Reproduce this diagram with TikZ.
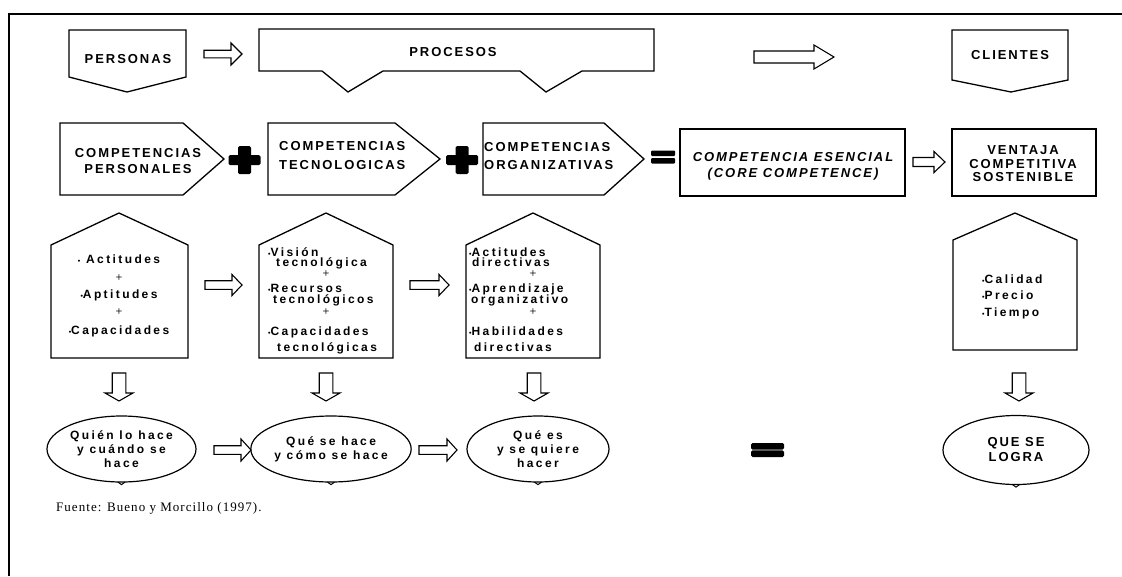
\documentclass[tikz,border=0pt]{standalone}
\usepackage{fontspec}
\setmainfont{Liberation Serif}
\newfontfamily\hdfont[LetterSpace=15]{Liberation Sans}
\newfontfamily\bdfont[LetterSpace=20]{Liberation Sans}
\newfontfamily\srcfont[LetterSpace=8]{Liberation Serif}
\usetikzlibrary{shapes.geometric,calc}

% hollow block arrow pointing right: start, end, body half, head half, head length
\newcommand\blockright[5]{%
  \draw[arrowline] let \p1=(#1), \p2=(#2) in
    (\x1,\y1+#3) -- (\x2-#5,\y1+#3) -- (\x2-#5,\y1+#4) -- (\x2,\y1)
    -- (\x2-#5,\y1-#4) -- (\x2-#5,\y1-#3) -- (\x1,\y1-#3) -- cycle;}
% hollow block arrow pointing down: start, end, body half, head half, head length
\newcommand\blockdown[5]{%
  \draw[arrowline] let \p1=(#1), \p2=(#2) in
    (\x1-#3,\y1) -- (\x1-#3,\y2+#5) -- (\x1-#4,\y2+#5) -- (\x1,\y2)
    -- (\x1+#4,\y2+#5) -- (\x1+#3,\y2+#5) -- (\x1+#3,\y1) -- cycle;}
% thick black plus sign centred at (#1,#2)
\newcommand\thickplus[2]{%
  \fill[rounded corners=1.5pt] (#1-16,#2-5) rectangle (#1+16,#2+5);
  \fill[rounded corners=1.5pt] (#1-6.5,#2-14) rectangle (#1+6.5,#2+14);}
\newcommand\dotmark{{\fontsize{7}{7}\selectfont\textbullet}}

\tikzset{
  outline/.style={draw=black, line width=1.3pt, line join=miter},
  arrowline/.style={draw=black, line width=1.1pt, fill=white, line join=miter},
  title/.style={inner sep=0pt, align=center,
    font=\hdfont\bfseries\fontsize{13}{15}\selectfont},
  bodytext/.style={inner sep=0pt, text height=8.5pt, text depth=0pt,
    font=\bdfont\bfseries\fontsize{12}{13}\selectfont},
  bullet/.style={bodytext, anchor=west},
  smallplus/.style={inner sep=0pt, font=\sffamily\bfseries\fontsize{8}{8}\selectfont},
  oval/.style={ellipse, draw=black, line width=1.2pt, inner sep=0pt, align=center,
    minimum height=66pt, font=\bdfont\bfseries\fontsize{12}{14}\selectfont},
}

\begin{document}
\begin{tikzpicture}[x=1pt,y=-1pt]
\useasboundingbox (0,0) rectangle (1122,576);

% page frame (top and left rules)
\draw[line width=2pt] (1122,14) -- (8.5,14) -- (8.5,576);

% ---------------- top row ----------------
\draw[outline] (69,30) -- (186,30) -- (186,77) -- (127,92) -- (69,77) -- cycle;
\node[title] (personas) at (128,59) {PERSONAS};

\draw[outline] (259,29) -- (654,29) -- (654,71) -- (582,71) -- (546,92) -- (520,71)
  -- (383,71) -- (348,92) -- (322,71) -- (259,71) -- cycle;
\node[title] (procesos) at (453,52) {PROCESOS};

\draw[outline] (952,30) -- (1068,30) -- (1068,80) -- (1011,92) -- (952,80) -- cycle;
\node[title] (clientes) at (1010,55) {CLIENTES};

\coordinate (a1s) at (204,54);  \coordinate (a1e) at (242,54);
\blockright{a1s}{a1e}{3.8pt}{11pt}{11pt}
\coordinate (a2s) at (754,57);  \coordinate (a2e) at (834,57);
\blockright{a2s}{a2e}{6pt}{12pt}{20pt}

% ---------------- competences row ----------------
\draw[outline] (60,123) -- (183,123) -- (224,159) -- (183,195) -- (60,195) -- cycle;
\node[title, font=\hdfont\bfseries\fontsize{13}{16}\selectfont] (cp) at (138,161)
  {COMPETENCIAS\\PERSONALES};

\draw[outline] (268,123) -- (395,123) -- (440,159) -- (395,195) -- (268,195) -- cycle;
\node[title, align=left, anchor=west, font=\hdfont\bfseries\fontsize{13}{19}\selectfont]
  (ct) at (279,156) {COMPETENCIAS\\TECNOLOGICAS};

\draw[outline] (483,123) -- (604,123) -- (644,159) -- (604,195) -- (483,195) -- cycle;
\node[title, align=left, anchor=west, font=\hdfont\bfseries\fontsize{13}{18}\selectfont]
  (co) at (484,156) {COMPETENCIAS\\ORGANIZATIVAS};

\thickplus{244.5}{160}
\thickplus{462}{160}

% equals sign
\fill[rounded corners=1pt] (651,150.5) rectangle (675,156);
\fill[rounded corners=1pt] (651,158) rectangle (675,163.5);

\draw[outline] (680,129) rectangle (905,196);
\node[title, font=\hdfont\bfseries\itshape\fontsize{13}{16}\selectfont] (ce) at (793,166)
  {COMPETENCIA ESENCIAL\\(CORE COMPETENCE)};

\coordinate (a3s) at (913,162);  \coordinate (a3e) at (945,162);
\blockright{a3s}{a3e}{4.5pt}{10.5pt}{11pt}

\draw[outline] (952,129) rectangle (1096,196);
\node[title, font=\hdfont\bfseries\fontsize{13}{13.5}\selectfont] (vcs) at (1023,164)
  {VENTAJA\\COMPETITIVA\\SOSTENIBLE};

% ---------------- house-shaped boxes ----------------
\draw[outline] (51,245) -- (119,213) -- (188,245) -- (188,358) -- (51,358) -- cycle;
\draw[outline] (259,245) -- (326,213) -- (393,245) -- (393,358) -- (259,358) -- cycle;
\draw[outline] (466,245) -- (533,213) -- (600,245) -- (600,358) -- (466,358) -- cycle;
\draw[outline] (953,240) -- (1015,213) -- (1077,240) -- (1077,350) -- (953,350) -- cycle;

% personal competences
\node[bodytext] (h1a) at (119,259) {\dotmark\ Actitudes};
\node[smallplus] (h1p) at (119,277) {+};
\node[bodytext] (h1b) at (119,294) {\dotmark Aptitudes};
\node[smallplus] (h1q) at (119,311) {+};
\node[bodytext] (h1c) at (119,330) {\dotmark Capacidades};

% technological competences
\node[bullet] (h2a) at (268,252) {\dotmark Visión};
\node[bullet] (h2b) at (276,262) {tecnológica};
\node[smallplus] (h2p) at (326,273) {+};
\node[bullet] (h2c) at (268,288) {\dotmark Recursos};
\node[bullet] (h2d) at (273,299) {tecnológicos};
\node[smallplus] (h2q) at (326,311) {+};
\node[bullet] (h2e) at (268,331) {\dotmark Capacidades};
\node[bullet] (h2f) at (277,347) {tecnológicas};

% organisational competences
\node[bullet] (h3a) at (469,252) {\dotmark Actitudes};
\node[bullet] (h3b) at (472,262) {directivas};
\node[smallplus] (h3p) at (533,273) {+};
\node[bullet] (h3c) at (469,288) {\dotmark Aprendizaje};
\node[bullet] (h3d) at (471,299) {organizativo};
\node[smallplus] (h3q) at (533,311) {+};
\node[bullet] (h3e) at (469,331) {\dotmark Habilidades};
\node[bullet] (h3f) at (474,347) {directivas};

% results
\node[bullet] (h4a) at (982,279) {\dotmark Calidad};
\node[bullet] (h4b) at (982,295) {\dotmark Precio};
\node[bullet] (h4c) at (982,312) {\dotmark Tiempo};

\coordinate (a4s) at (205,285);  \coordinate (a4e) at (242,285);
\blockright{a4s}{a4e}{4.3pt}{10.5pt}{10pt}
\coordinate (a5s) at (410,285);  \coordinate (a5e) at (449,285);
\blockright{a5s}{a5e}{4.3pt}{10.5pt}{10pt}

% ---------------- downward arrows ----------------
\coordinate (d1s) at (119,373);  \coordinate (d1e) at (119,401);
\blockdown{d1s}{d1e}{6.8pt}{14pt}{8pt}
\coordinate (d2s) at (326,373);  \coordinate (d2e) at (326,401);
\blockdown{d2s}{d2e}{6.8pt}{14pt}{8pt}
\coordinate (d3s) at (534,373);  \coordinate (d3e) at (534,401);
\blockdown{d3s}{d3e}{6.8pt}{14pt}{8pt}
\coordinate (d4s) at (1019,373); \coordinate (d4e) at (1019,401);
\blockdown{d4s}{d4e}{6.8pt}{14pt}{8pt}

% ---------------- ovals ----------------
\node[oval, minimum width=149pt] (e1) at (121.5,449) {Quién lo hace\\y cuándo se\\hace};
\node[oval, minimum width=144pt] (e2) at (331,449) {Qué se hace\\y cómo se hace};
\node[oval, minimum width=142pt] (e3) at (538,449) {Qué es\\y se quiere\\hacer};
\node[oval, minimum width=146pt, minimum height=69pt,
  font=\hdfont\bfseries\fontsize{13}{15}\selectfont] (e4) at (1016,450) {QUE SE\\LOGRA};
\foreach \e in {e1,e2,e3,e4}
  \draw[line width=1pt] ($(\e.south)+(-3.5,-0.5)$) -- ($(\e.south)+(0,2)$) -- ($(\e.south)+(3.5,-0.5)$);

\coordinate (a6s) at (214,450);  \coordinate (a6e) at (251,450);
\blockright{a6s}{a6e}{4.3pt}{11pt}{10pt}
\coordinate (a7s) at (419,450);  \coordinate (a7e) at (457,450);
\blockright{a7s}{a7e}{4.3pt}{11pt}{10pt}

% heavy equals sign
\fill[rounded corners=1.5pt] (751,443) rectangle (784,449.6);
\fill[rounded corners=1.5pt] (751,450.4) rectangle (784,457);

% source line
\node[inner sep=0pt, anchor=west, font=\srcfont\fontsize{13}{15}\selectfont] (fuente)
  at (56,508) {Fuente: Bueno y Morcillo (1997).};
\end{tikzpicture}
\end{document}
